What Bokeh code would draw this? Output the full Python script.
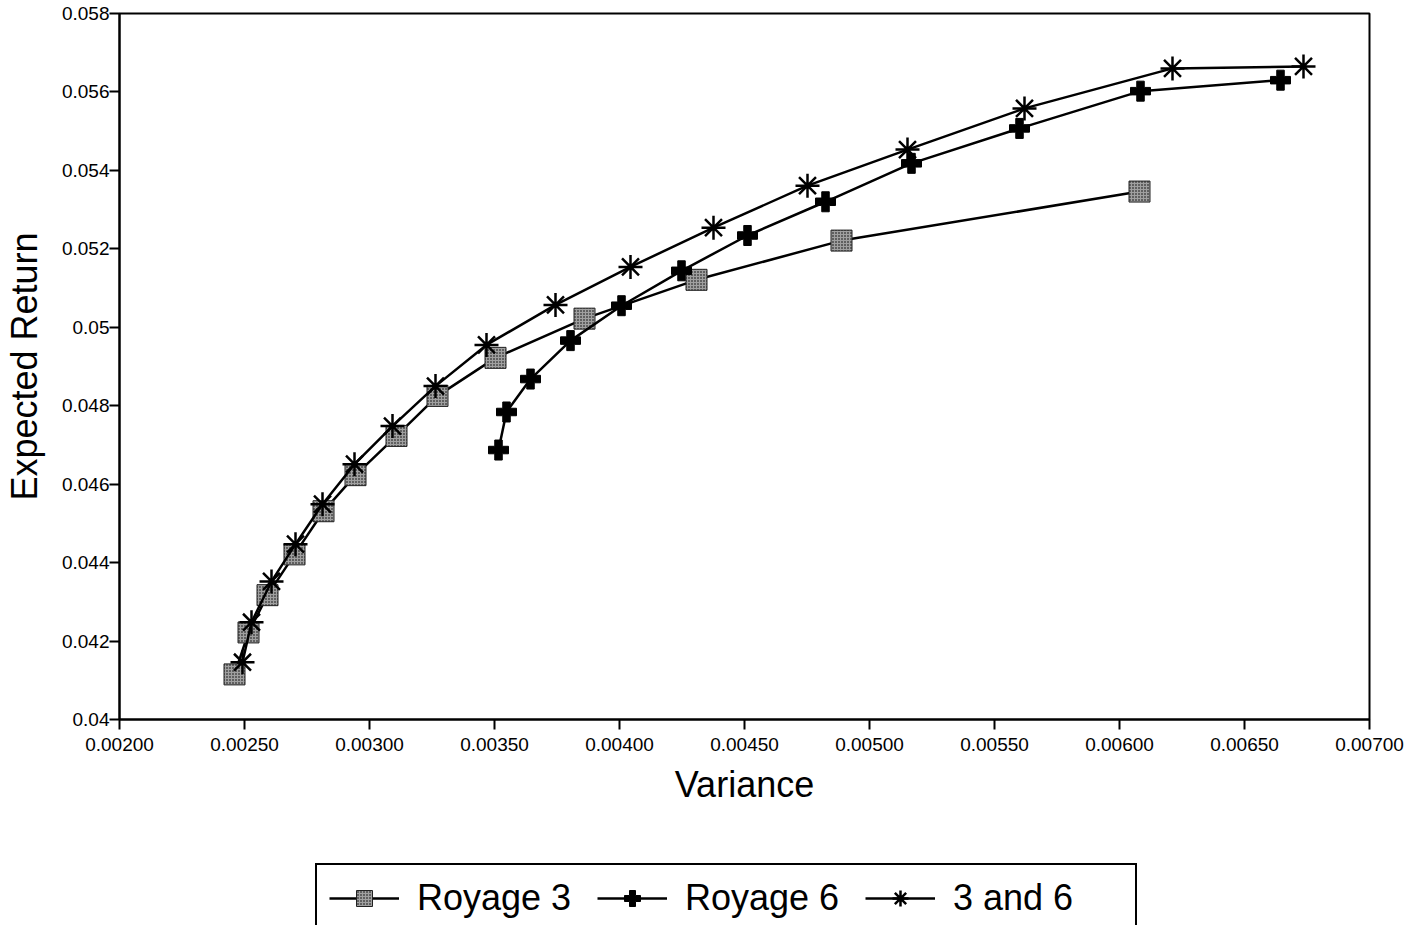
from bokeh.plotting import figure
from bokeh.models import FixedTicker, Legend, LegendItem
from bokeh.layouts import column
from bokeh.embed import file_html
from bokeh.resources import INLINE

# Data
r3_var = [0.00246, 0.002516, 0.002592, 0.00270, 0.002816, 0.002944, 0.003108, 0.003272, 0.003504, 0.00386, 0.004308, 0.004888, 0.00608]
r3_ret = [0.04115, 0.04222, 0.04317, 0.04421, 0.04531, 0.04623, 0.04723, 0.04825, 0.04922, 0.05022, 0.05121, 0.05221, 0.05346]

r6_var = [0.003516, 0.003548, 0.003644, 0.003804, 0.004008, 0.004248, 0.004512, 0.004824, 0.005168, 0.0056, 0.006084, 0.006644]
r6_ret = [0.04687, 0.04784, 0.04868, 0.04966, 0.05055, 0.05144, 0.05234, 0.0532, 0.05418, 0.05507, 0.05602, 0.0563]

b_var = [0.002492, 0.002528, 0.002608, 0.002704, 0.002812, 0.00294, 0.003092, 0.003264, 0.003468, 0.003744, 0.004044, 0.004376, 0.004752, 0.005152, 0.00562, 0.006212, 0.006736]
b_ret = [0.04146, 0.04248, 0.04352, 0.04447, 0.04549, 0.04651, 0.04748, 0.0485, 0.04955, 0.05057, 0.05154, 0.05254, 0.05361, 0.05453, 0.05558, 0.0566, 0.05665]

x_ticks = [0.002, 0.0025, 0.003, 0.0035, 0.004, 0.0045, 0.005, 0.0055, 0.006, 0.0065, 0.007]
x_tick_labels = ["0.00200", "0.00250", "0.00300", "0.00350", "0.00400", "0.00450", "0.00500", "0.00550", "0.00600", "0.00650", "0.00700"]
y_ticks = [0.04, 0.042, 0.044, 0.046, 0.048, 0.05, 0.052, 0.054, 0.056, 0.058]
y_tick_labels = ["0.04", "0.042", "0.044", "0.046", "0.048", "0.05", "0.052", "0.054", "0.056", "0.058"]

series_names = ["Royage 3", "Royage 6", "3 and 6"]

FONT = "Liberation Sans"

main = figure(frame_width=1250, frame_height=706, x_range=(0.002, 0.007), y_range=(0.04, 0.058),
              output_backend="svg", toolbar_location=None,
              min_border_left=114, min_border_right=44, min_border_top=13, min_border_bottom=10)

main.xgrid.visible = False
main.ygrid.visible = False
main.outline_line_color = "black"
main.outline_line_width = 2
main.background_fill_color = "white"
main.border_fill_color = "white"

main.xaxis.ticker = FixedTicker(ticks=x_ticks)
main.xaxis.major_label_overrides = {t: l for t, l in zip(x_ticks, x_tick_labels)}
main.yaxis.ticker = FixedTicker(ticks=y_ticks)
main.yaxis.major_label_overrides = {t: l for t, l in zip(y_ticks, y_tick_labels)}

for ax in (main.xaxis, main.yaxis):
    ax.axis_line_color = "black"
    ax.axis_line_width = 2
    ax.major_tick_line_color = "black"
    ax.major_tick_line_width = 2
    ax.major_tick_in = 0
    ax.major_tick_out = 10
    ax.minor_tick_line_color = None
    ax.major_label_text_font = FONT
    ax.major_label_text_font_size = "19px"
    ax.major_label_text_color = "black"
    ax.axis_label_text_font = FONT
    ax.axis_label_text_font_size = "36px"
    ax.axis_label_text_font_style = "normal"
    ax.axis_label_text_color = "black"

main.xaxis.axis_label = "Variance"
main.yaxis.axis_label = "Expected Return"
main.xaxis.major_label_standoff = 8
main.yaxis.major_label_standoff = 0
main.xaxis.axis_label_standoff = 10
main.yaxis.axis_label_standoff = 14

line_kw = dict(line_color="black", line_width=2.5)
r3_kw = dict(marker="square", size=21, fill_color="#a0a0a0", line_color="#222222", line_width=1,
             hatch_pattern="dot", hatch_color="black", hatch_scale=3, hatch_weight=1.5)
r6_kw = dict(marker="plus", size=20, fill_color="black", line_color="black")
b_kw = dict(marker="asterisk", size=24, line_color="black", line_width=2.5)

main.line(r3_var, r3_ret, **line_kw)
main.scatter(r3_var, r3_ret, **r3_kw)
main.line(r6_var, r6_ret, **line_kw)
main.scatter(r6_var, r6_ret, **r6_kw)
main.line(b_var, b_ret, **line_kw)
main.scatter(b_var, b_ret, **b_kw)

# Legend panel underneath the chart (its series sit outside this panel's visible range)
leg = figure(width=1408, height=118, x_range=(10, 11), y_range=(10, 11),
             x_axis_location=None, y_axis_location=None,
             output_backend="svg", toolbar_location=None,
             min_border_left=0, min_border_right=0, min_border_top=0, min_border_bottom=0)
leg.grid.visible = False
leg.outline_line_color = None
leg.border_fill_color = "white"
leg.background_fill_color = "white"

k1 = leg.line(r3_var, r3_ret, **line_kw)
s1 = leg.scatter(r3_var, r3_ret, **r3_kw)
k2 = leg.line(r6_var, r6_ret, **line_kw)
s2 = leg.scatter(r6_var, r6_ret, **r6_kw)
k3 = leg.line(b_var, b_ret, **line_kw)
s3 = leg.scatter(b_var, b_ret, **b_kw)

legend = Legend(items=[
    LegendItem(label=series_names[0], renderers=[k1, s1]),
    LegendItem(label=series_names[1], renderers=[k2, s2]),
    LegendItem(label=series_names[2], renderers=[k3, s3]),
], orientation="horizontal", location=(196, -8))
legend.label_text_font = FONT
legend.label_text_font_size = "36px"
legend.label_text_color = "black"
legend.glyph_width = 70
legend.glyph_height = 40
legend.label_standoff = 18
legend.label_width = 170
legend.spacing = 10
legend.padding = 12
legend.margin = 0
legend.border_line_color = "black"
legend.border_line_alpha = 1.0
legend.border_line_width = 2
legend.background_fill_color = "white"
legend.background_fill_alpha = 1
leg.add_layout(legend, "center")

p = column(main, leg, spacing=0)

open("out.html", "w").write(file_html(p, INLINE))
